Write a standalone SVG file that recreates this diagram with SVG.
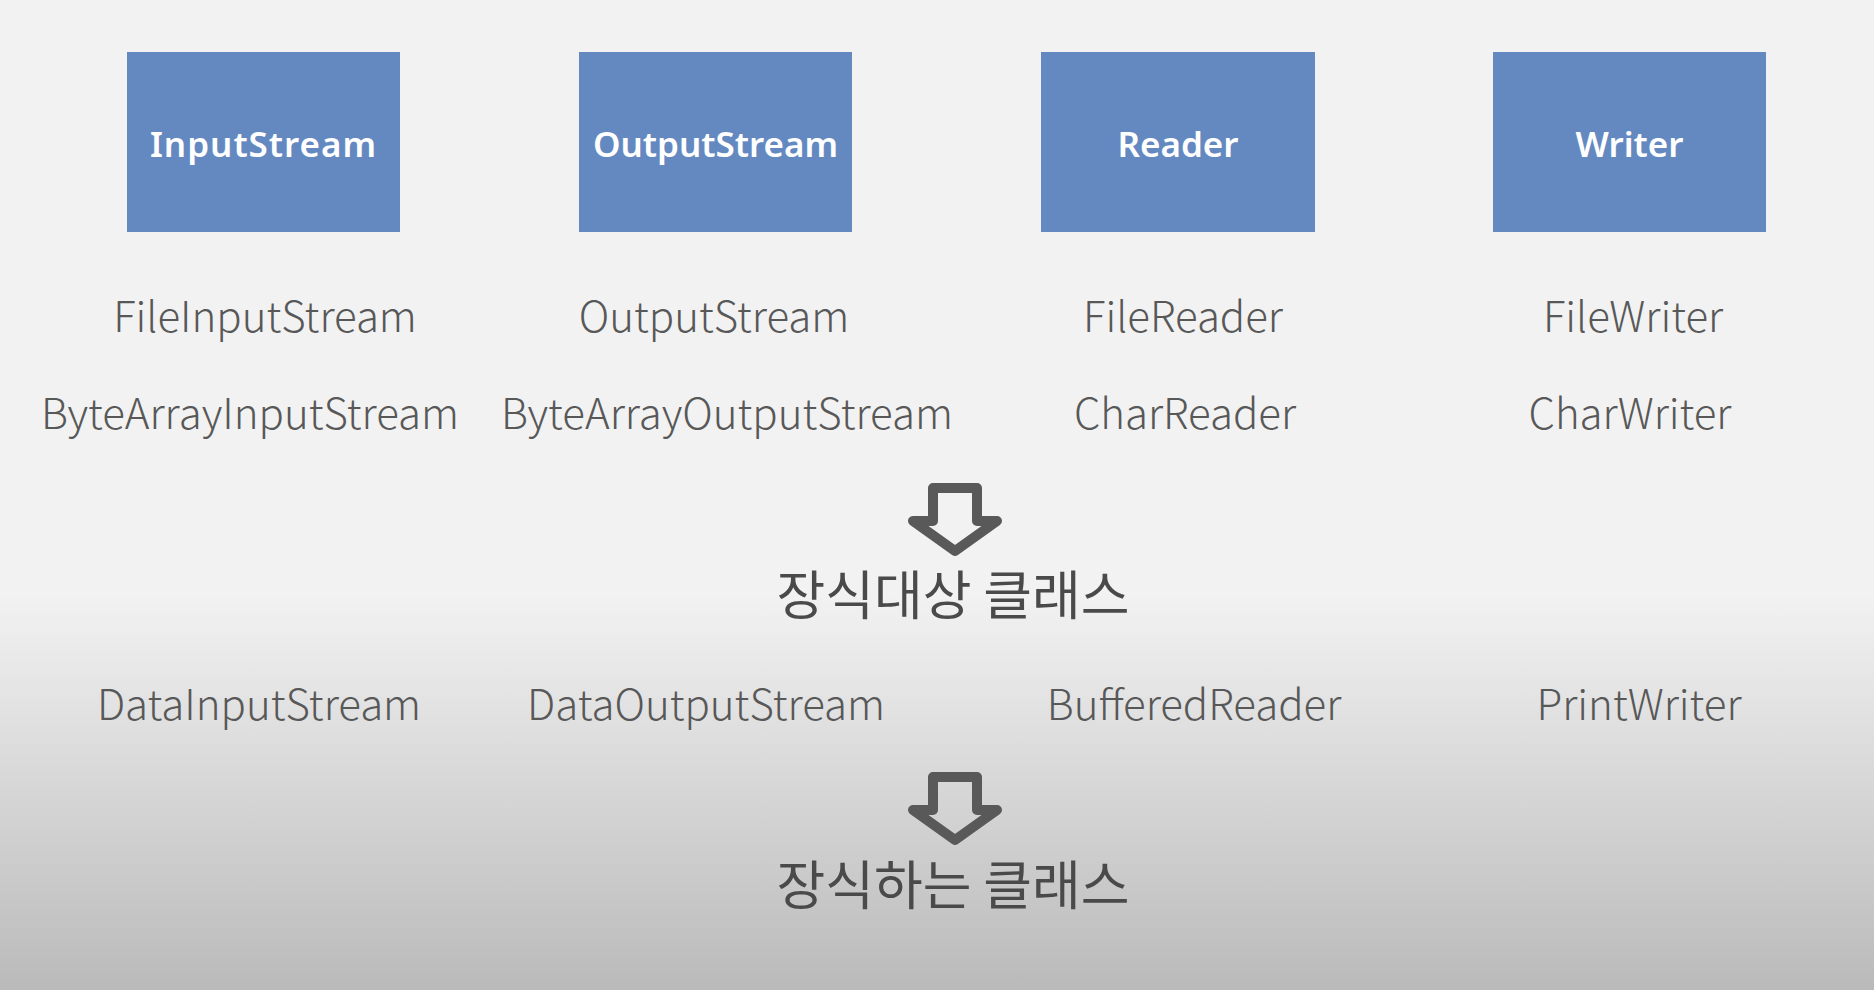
<svg xmlns="http://www.w3.org/2000/svg" width="1874" height="990" viewBox="0 0 1874 990">
<defs>
<linearGradient id="bg" x1="0" y1="0" x2="0" y2="990" gradientUnits="userSpaceOnUse">
<stop offset="0" stop-color="#f2f2f2"/>
<stop offset="0.6" stop-color="#f2f2f2"/>
<stop offset="0.8" stop-color="#d6d6d6"/>
<stop offset="1" stop-color="#bababa"/>
</linearGradient>
<path id="arrow" d="M933 0 L977 0 L977 33 L997 33 L955 63 L913 33 L933 33 Z" fill="none" stroke="#595959" stroke-width="10" stroke-linejoin="round"/>
</defs>
<style>
.box{fill:#6489c1;}
.bt{font-family:"Noto Sans","Noto Sans CJK KR",sans-serif;font-weight:600;font-size:35px;fill:#ffffff;text-anchor:middle;}
.lb{font-family:"Noto Sans CJK KR","Noto Sans",sans-serif;font-weight:300;font-size:42px;fill:#585858;text-anchor:middle;}
.kr{font-family:"Noto Sans CJK KR",sans-serif;font-weight:400;font-size:53px;fill:#4a4a4a;text-anchor:middle;}
</style>
<rect x="0" y="0" width="1874" height="990" fill="url(#bg)"/>
<g id="node-inputstream"><rect class="box" x="127" y="52" width="273" height="180"/><text class="bt" x="263.5" y="157" letter-spacing="1">InputStream</text></g>
<g id="node-outputstream"><rect class="box" x="579" y="52" width="273" height="180"/><text class="bt" x="715.5" y="157">OutputStream</text></g>
<g id="node-reader"><rect class="box" x="1041" y="52" width="274" height="180"/><text class="bt" x="1178" y="157">Reader</text></g>
<g id="node-writer"><rect class="box" x="1493" y="52" width="273" height="180"/><text class="bt" x="1629.5" y="157">Writer</text></g>
<g id="labels-row1">
<text class="lb" x="265" y="332">FileInputStream</text>
<text class="lb" x="714" y="332">OutputStream</text>
<text class="lb" x="1183" y="332">FileReader</text>
<text class="lb" x="1633" y="332">FileWriter</text>
</g>
<g id="labels-row2">
<text class="lb" x="250" y="429">ByteArrayInputStream</text>
<text class="lb" x="727" y="429">ByteArrayOutputStream</text>
<text class="lb" x="1185" y="429">CharReader</text>
<text class="lb" x="1630" y="429">CharWriter</text>
</g>
<g id="label-decorated"><text class="kr" x="953" y="615">장식대상 클래스</text></g>
<g id="labels-row3">
<text class="lb" x="259" y="720">DataInputStream</text>
<text class="lb" x="706" y="720">DataOutputStream</text>
<text class="lb" x="1194" y="720">BufferedReader</text>
<text class="lb" x="1639" y="720">PrintWriter</text>
</g>
<g id="label-decorator"><text class="kr" x="953" y="905">장식하는 클래스</text></g>
<g id="connectors">
<use href="#arrow" transform="translate(0,488)"/>
<use href="#arrow" transform="translate(0,777)"/>
</g>
</svg>
